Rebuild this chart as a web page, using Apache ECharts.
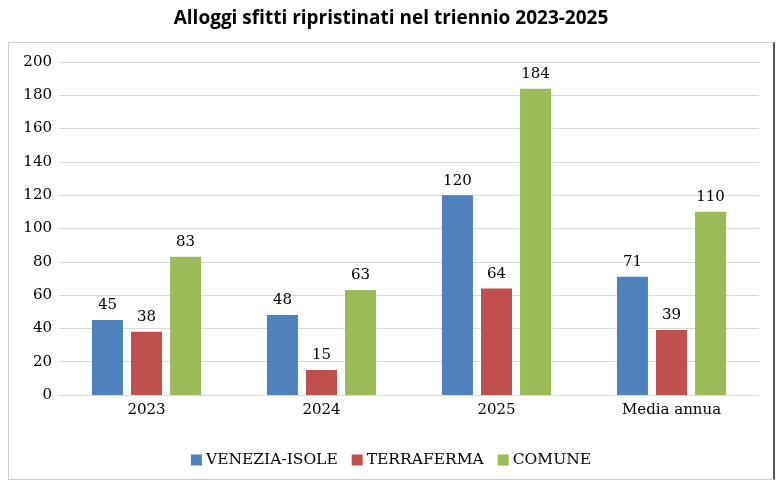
<!DOCTYPE html>
<html><head><meta charset="utf-8">
<script src="https://cdn.jsdelivr.net/npm/echarts@6/dist/echarts.min.js"></script>
<style>
html,body{margin:0;padding:0;background:#fff;}
#frame{position:absolute;left:8px;top:42px;width:767px;height:438px;border:1px solid #d0d0d0;border-right:2px solid #555;box-sizing:border-box;}
#chart{position:absolute;left:0;top:0;width:782px;height:484px;}
</style></head>
<body>
<div id="frame"></div>
<div id="chart"></div>
<script>
const categories = ['2023', '2024', '2025', 'Media annua'];
const venezia = [45, 48, 120, 71];
const terraferma = [38, 15, 64, 39];
const comune = [83, 63, 184, 110];
const seriesNames = ['VENEZIA-ISOLE', 'TERRAFERMA', 'COMUNE'];
const colors = ['#4F81BD', '#C0504D', '#9BBB59'];

const serif = '"DejaVu Serif", "Liberation Serif", serif';
const chart = echarts.init(document.getElementById('chart'), null, {renderer: 'canvas'});
const mk = (name, data, c) => ({
  name, type: 'bar', data, barWidth: 31, barGap: '26%',
  itemStyle: {color: c},
  label: {show: true, position: 'top', distance: 7, color: '#000', fontFamily: serif, fontSize: 15}
});
chart.setOption({
  backgroundColor: 'transparent',
  animation: false,
  color: colors,
  title: {
    text: 'Alloggi sfitti ripristinati nel triennio 2023-2025',
    left: 'center', top: 4,
    textStyle: {fontFamily: '"Open Sans", "Liberation Sans", sans-serif', fontWeight: 'bold', fontSize: 19, color: '#000'}
  },
  legend: {
    bottom: 11, left: 'center', itemWidth: 11, itemHeight: 11, itemGap: 14,
    icon: 'rect',
    textStyle: {fontFamily: serif, fontSize: 15.5, color: '#000', padding: [0, 0, 0, -1]},
    data: seriesNames
  },
  grid: {left: 59, right: 23, top: 62, bottom: 89, containLabel: false},
  xAxis: {
    type: 'category', data: categories,
    axisLine: {lineStyle: {color: '#d9d9d9', width: 1}},
    axisTick: {show: false},
    axisLabel: {fontFamily: serif, fontSize: 15, color: '#000', margin: 8}
  },
  yAxis: {
    type: 'value', min: 0, max: 200, interval: 20,
    axisLine: {show: false}, axisTick: {show: false},
    splitLine: {lineStyle: {color: '#d9d9d9', width: 1}},
    axisLabel: {fontFamily: serif, fontSize: 15, color: '#000', margin: 7}
  },
  series: [mk(seriesNames[0], venezia, colors[0]), mk(seriesNames[1], terraferma, colors[1]), mk(seriesNames[2], comune, colors[2])]
});
</script>
</body></html>
